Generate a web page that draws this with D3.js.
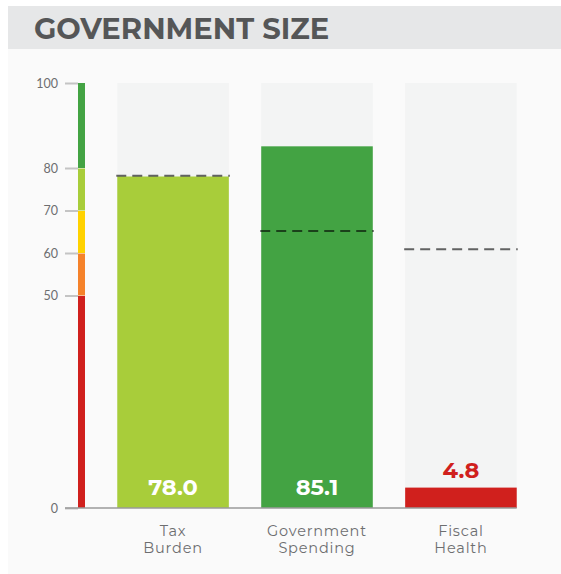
<!DOCTYPE html>
<html>
<head>
<meta charset="utf-8">
<script src="https://cdn.jsdelivr.net/npm/d3@7"></script>
<style>
  body { margin: 0; background: #fff; }
  svg text { font-family: "Montserrat", "Lato", "Open Sans", sans-serif; }
</style>
</head>
<body>
<div id="chart"></div>
<script>
// Data
var categories  = ["Tax Burden", "Government Spending", "Fiscal Health"];
var labelTop    = ["Tax", "Government", "Fiscal"];
var labelBottom = ["Burden", "Spending", "Health"];
var scores      = [78.0, 85.1, 4.8];
var benchmarks  = [78.2, 65.2, 60.9];
var tickValues  = [0, 50, 60, 70, 80, 100];
var bandStops   = [0, 50, 60, 70, 80, 100];
var bandColors  = ["#d0201d", "#f5822a", "#ffd200", "#a8cd3a", "#43a343"];

// Setup
var svgWidth = 561, svgHeight = 574;
var svg = d3.select("#chart").append("svg")
  .attr("width", svgWidth)
  .attr("height", svgHeight);

svg.append("rect")
  .attr("x", 8).attr("y", 49)
  .attr("width", svgWidth - 8).attr("height", svgHeight - 49)
  .attr("fill", "#fafafa");

svg.append("rect")
  .attr("x", 8).attr("y", 6)
  .attr("width", svgWidth - 8).attr("height", 43)
  .attr("fill", "#e6e7e8");

svg.append("text")
  .attr("x", 34).attr("y", 39)
  .attr("font-size", 29)
  .attr("font-weight", 700)
  .attr("fill", "#555657")
  .text("GOVERNMENT SIZE");

var y = d3.scaleLinear().domain([0, 100]).range([508, 83]);
var x = d3.scaleBand().domain(categories).range([100, 534]).paddingInner(0.225).paddingOuter(0.12);

function colorFor(v) {
  for (var i = 0; i < bandColors.length; i++) {
    if (v < bandStops[i + 1]) return bandColors[i];
  }
  return bandColors[bandColors.length - 1];
}

// Y axis ticks
var yAxis = d3.axisLeft(y).tickValues(tickValues).tickSize(13).tickPadding(7);
var yg = svg.append("g")
  .attr("transform", "translate(78,0)")
  .call(yAxis);
yg.select(".domain").remove();
yg.selectAll(".tick line").attr("stroke", "#c4c4c4").attr("stroke-width", 2);
yg.selectAll(".tick text")
  .attr("fill", "#6d6e70")
  .attr("font-size", 12.5)
  .style("font-family", "Lato, sans-serif");

// Colour scale band
var bands = d3.range(bandColors.length).map(function(i) {
  return { lo: bandStops[i], hi: bandStops[i + 1], color: bandColors[i] };
});
svg.append("g").selectAll("rect")
  .data(bands)
  .enter().append("rect")
  .attr("x", 78)
  .attr("width", 7)
  .attr("y", function(d) { return y(d.hi) + (d.hi < 100 ? 0.5 : 0); })
  .attr("height", function(d) { return y(d.lo) - y(d.hi) - (d.hi < 100 ? 0.5 : 0); })
  .attr("fill", function(d) { return d.color; });

// Background bars
svg.append("g").selectAll("rect")
  .data(categories)
  .enter().append("rect")
  .attr("x", function(d) { return x(d); })
  .attr("width", x.bandwidth())
  .attr("y", y(100))
  .attr("height", y(0) - y(100))
  .attr("fill", "#f3f4f4");

// Score bars
svg.append("g").selectAll("rect")
  .data(scores)
  .enter().append("rect")
  .attr("x", function(d, i) { return x(categories[i]); })
  .attr("width", x.bandwidth())
  .attr("y", function(d) { return y(d); })
  .attr("height", function(d) { return y(0) - y(d); })
  .attr("fill", function(d) { return colorFor(d); });

// Benchmark dashed lines
svg.append("g").selectAll("line")
  .data(benchmarks)
  .enter().append("line")
  .attr("x1", function(d, i) { return x(categories[i]) - 1; })
  .attr("x2", function(d, i) { return x(categories[i]) + x.bandwidth() + 1; })
  .attr("y1", function(d) { return y(d); })
  .attr("y2", function(d) { return y(d); })
  .attr("stroke", "#000")
  .attr("stroke-opacity", 0.6)
  .attr("stroke-width", 2)
  .attr("stroke-dasharray", "10,6");

// Baseline
svg.append("line")
  .attr("x1", 65).attr("x2", x(categories[2]) + x.bandwidth())
  .attr("y1", y(0)).attr("y2", y(0))
  .attr("stroke", "#9a9a9a")
  .attr("stroke-width", 1.5);

// Value labels
svg.append("g").selectAll("text")
  .data(scores)
  .enter().append("text")
  .attr("x", function(d, i) { return x(categories[i]) + x.bandwidth() / 2; })
  .attr("y", function(d) { return (y(0) - y(d) > 40) ? 495 : y(d) - 10; })
  .attr("text-anchor", "middle")
  .attr("font-size", 22.5)
  .attr("font-weight", 700)
  .attr("fill", function(d) { return (y(0) - y(d) > 40) ? "#fff" : colorFor(d); })
  .text(function(d) { return d.toFixed(1); });

// Category labels (two lines)
[labelTop, labelBottom].forEach(function(lines, row) {
  svg.append("g").selectAll("text")
    .data(lines)
    .enter().append("text")
    .attr("x", function(d, i) { return x(categories[i]) + x.bandwidth() / 2; })
    .attr("y", 536 + row * 17)
    .attr("text-anchor", "middle")
    .attr("font-size", 14.5)
    .attr("fill", "#6d6e70")
    .attr("letter-spacing", 0.8)
    .text(function(d) { return d; });
});
</script>
</body>
</html>
